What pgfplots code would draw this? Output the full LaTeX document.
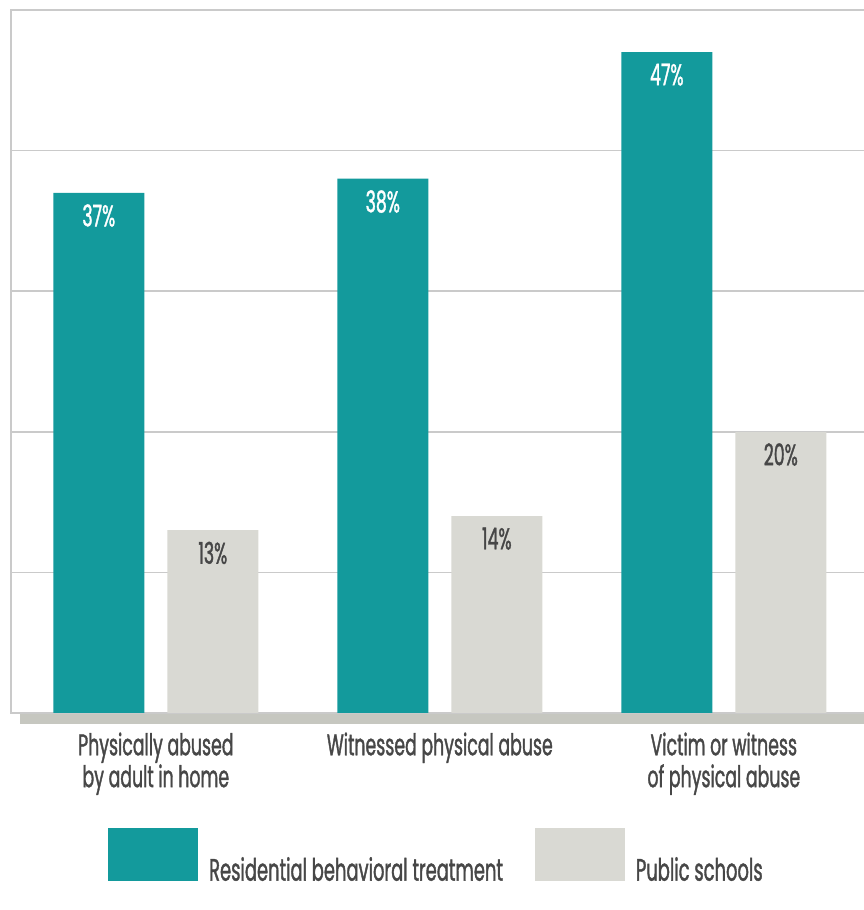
\documentclass[border=0pt]{standalone}
\usepackage{fontspec}
\setmainfont{Poppins}[FakeStretch=0.58, FakeBold=1.2]
\usepackage{pgfplots}
\pgfplotsset{compat=1.18}

\definecolor{resteal}{HTML}{139A9C}
\definecolor{pubgray}{HTML}{D9D9D3}
\definecolor{gridgray}{HTML}{CACACA}
\definecolor{shadowgray}{HTML}{C6C7C0}
\definecolor{txt}{HTML}{474747}

\begin{document}
\begin{tikzpicture}
\useasboundingbox (0,0) rectangle (864bp,910bp);
\begin{axis}[
  at={(11bp,197bp)}, anchor=south west,
  scale only axis, width=870bp, height=703bp,
  xmin=-0.51, xmax=2.5534,
  ymin=0, ymax=50,
  clip=false,
  /pgf/number format/assume math mode=true,
  ytick={10,20,30,40}, yticklabels={},
  ymajorgrids, grid style={gridgray, line width=1.5bp},
  axis line style={gridgray, line width=2bp},
  major tick length=0pt,
  xtick={0,1,2},
  xticklabels={{Physically abused\\by adult in home},{Witnessed physical abuse},{Victim or witness\\of physical abuse}},
  xticklabel style={align=center, text=txt, font=\fontsize{30}{32}\selectfont, yshift=-16bp},
  ybar=23bp, bar width=91bp,
  nodes near coords={\pgfmathprintnumber{\pgfplotspointmeta}\%},
  every node near coord/.append style={anchor=north, yshift=-8bp, font=\fontsize{30}{30}\selectfont},
  legend columns=2,
  legend image code/.code={\fill[#1] (0bp,-11bp) rectangle (90bp,42bp);},
  legend style={at={(rel axis cs:0.108,-0.16)}, anchor=north west, draw=none, fill=none,
    font=\fontsize{31}{31}\selectfont, text=txt,
    /tikz/every odd column/.append style={column sep=9bp},
    /tikz/every even column/.append style={column sep=30bp}},
]
\addplot[fill=resteal, draw=none, every node near coord/.append style={text=white}]
  coordinates {(0,37) (1,38) (2,47)};
\addlegendentry{Residential behavioral treatment}
\addplot[fill=pubgray, draw=none, every node near coord/.append style={text=txt}]
  coordinates {(0,13) (1,14) (2,20)};
\addlegendentry{Public schools}
% shadow band under the baseline
\fill[shadowgray] (axis cs:-0.478,-0.05) rectangle (axis cs:2.6,-0.78);
\end{axis}
\end{tikzpicture}
\end{document}
